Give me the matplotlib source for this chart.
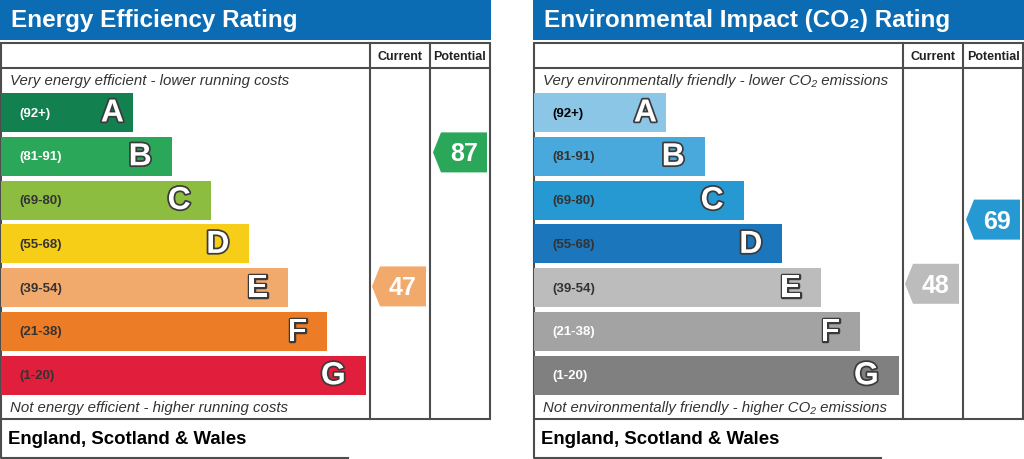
import matplotlib
matplotlib.use("Agg")
from matplotlib import pyplot as plt
from matplotlib.patches import Rectangle, Polygon
import matplotlib.patheffects as pe

plt.rcParams['font.family'] = ['Liberation Sans', 'DejaVu Sans']

bands = ["A", "B", "C", "D", "E", "F", "G"]
band_ranges = ["(92+)", "(81-91)", "(69-80)", "(55-68)", "(39-54)", "(21-38)", "(1-20)"]
band_lo = [92, 81, 69, 55, 39, 21, 1]
band_hi = [100, 91, 80, 68, 54, 38, 20]

energy_colors = ["#13804f", "#2ba75a", "#8dbd40", "#f6cd17", "#f2a96c", "#ec7c25", "#e11f3c"]
energy_label_colors = ["white", "white", "#333333", "#333333", "#333333", "#333333", "#333333"]
energy_current = 47
energy_potential = 87

co2_colors = ["#8bc6e7", "#4aa9dc", "#2699d2", "#1c76bb", "#bcbcbc", "#a3a3a3", "#808080"]
co2_label_colors = ["black", "#333333", "#333333", "#333333", "#333333", "white", "white"]
co2_current = 48
co2_potential = 69

BLUE = "#0b6bb3"
LINE = "#4d4d4d"

fig = plt.figure(figsize=(10.24, 4.6), dpi=100)
ax = fig.add_axes([0, 0, 1, 1])
ax.set_xlim(0, 1024)
ax.set_ylim(460, 0)
ax.axis("off")

row_top = 94
row_step = 43.8
row_h = 39


def band_of(value):
    for i in range(len(bands)):
        if band_lo[i] <= value <= band_hi[i]:
            return i
    return len(bands) - 1


def arrow(x_left, value, colors):
    i = band_of(value)
    hi = min(band_hi[i], 91) if i == 0 else band_hi[i]
    frac = (hi - value) / max(hi - band_lo[i], 1)
    yc = row_top + i * row_step + frac * row_h
    w, h, tip = 54, 40, 8
    pts = [(x_left, yc), (x_left + tip, yc - h / 2), (x_left + w, yc - h / 2),
           (x_left + w, yc + h / 2), (x_left + tip, yc + h / 2)]
    ax.add_patch(Polygon(pts, closed=True, facecolor=colors[i], edgecolor="none"))
    ax.text(x_left + tip / 2 + w / 2, yc + 1, str(value), color="white", fontsize=18,
            fontweight="bold", ha="center", va="center")


def draw_panel(x0, title, colors, label_colors, top_text, bottom_text, current, potential):
    ax.add_patch(Rectangle((x0, 0), 491, 41, facecolor=BLUE, edgecolor="none"))
    ax.text(x0 + 11, 21, title, color="white", fontsize=17.5, fontweight="bold", va="center")

    ax.add_patch(Rectangle((x0 + 1, 44), 489, 376, facecolor="none", edgecolor=LINE, lw=1.5))
    ax.plot([x0 + 1, x0 + 490], [69, 69], color=LINE, lw=1.5)
    for cx in (370, 430):
        ax.plot([x0 + cx, x0 + cx], [44, 420], color=LINE, lw=1.5)
    ax.text(x0 + 400, 57, "Current", fontsize=9, fontweight="bold", ha="center", va="center", color="#222222")
    ax.text(x0 + 460, 57, "Potential", fontsize=9, fontweight="bold", ha="center", va="center", color="#222222")

    ax.text(x0 + 10, 81, top_text, fontsize=10.8, style="italic", va="center", color="#333333")
    ax.text(x0 + 10, 408, bottom_text, fontsize=10.8, style="italic", va="center", color="#333333")

    ys = [row_top + i * row_step + row_h / 2 for i in range(len(bands))]
    widths = [132 + 38.8 * i for i in range(len(bands))]
    ax.barh(ys, widths, height=row_h, left=x0 + 1, color=colors)
    for i in range(len(bands)):
        ax.text(x0 + 19, ys[i], band_ranges[i], fontsize=9.5, fontweight="bold",
                color=label_colors[i], va="center")
        pad = 9 if i == 0 else 20
        ax.text(x0 + 1 + widths[i] - pad, ys[i] + 1, bands[i], fontsize=23, fontweight="bold",
                color="white", ha="right", va="center",
                path_effects=[pe.Stroke(linewidth=2.5, foreground="#3a3a3a"), pe.Normal()])

    arrow(x0 + 372, current, colors)
    arrow(x0 + 433, potential, colors)

    ax.plot([x0 + 1, x0 + 1, x0 + 348], [420, 459, 459], color=LINE, lw=1.5)
    ax.text(x0 + 8, 440, "England, Scotland & Wales", fontsize=13.4, fontweight="bold",
            va="center", color="black")


draw_panel(0, "Energy Efficiency Rating", energy_colors, energy_label_colors,
           "Very energy efficient - lower running costs",
           "Not energy efficient - higher running costs",
           energy_current, energy_potential)
draw_panel(533, "Environmental Impact (CO₂) Rating", co2_colors, co2_label_colors,
           "Very environmentally friendly - lower CO₂ emissions",
           "Not environmentally friendly - higher CO₂ emissions",
           co2_current, co2_potential)

fig.savefig("out.png", dpi=100)
